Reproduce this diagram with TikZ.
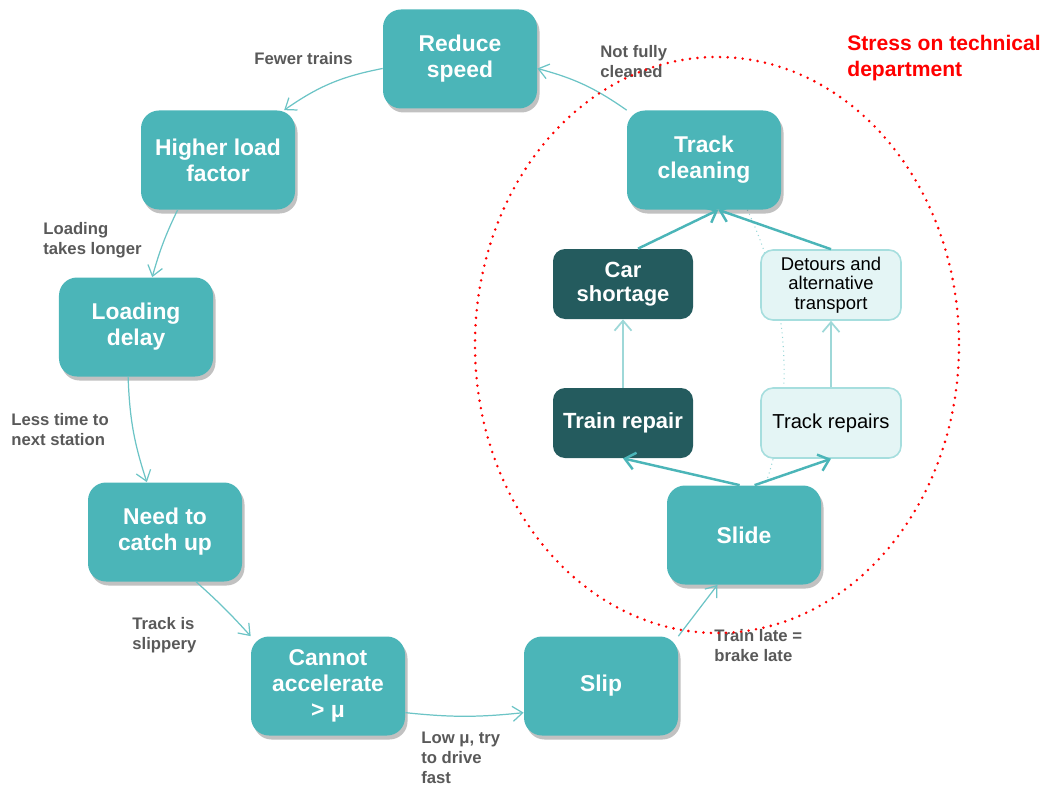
\documentclass[tikz,border=0pt]{standalone}
\usepackage{fontspec}
\setmainfont{Liberation Sans}
\usetikzlibrary{arrows.meta,shadows,backgrounds}

\definecolor{boxteal}{HTML}{4BB5B8}
\definecolor{boxdark}{HTML}{245B5E}
\definecolor{boxpale}{HTML}{E4F5F5}
\definecolor{edgepale}{HTML}{A6DEDE}
\definecolor{linkteal}{HTML}{6CC4C6}
\definecolor{linkpale}{HTML}{9ED8D8}
\definecolor{lblgray}{HTML}{595959}

\tikzset{
  bigbox/.style={rectangle, rounded corners=3.6mm, fill=boxteal, text=white,
    minimum width=30.8mm, minimum height=19.8mm, align=center, inner sep=0pt,
    font=\fontsize{13}{14.8}\selectfont\bfseries,
    drop shadow={shadow xshift=0.5mm, shadow yshift=-0.8mm, opacity=0.35, fill=black!70}},
  darkbox/.style={rectangle, rounded corners=2.4mm, fill=boxdark, text=white,
    minimum width=28mm, minimum height=14mm, align=center, inner sep=0pt,
    font=\fontsize{12.5}{13.5}\selectfont\bfseries},
  lightbox/.style={rectangle, rounded corners=2.4mm, fill=boxpale, draw=edgepale,
    line width=0.9pt, text=black, minimum width=28mm, minimum height=14mm,
    align=center, inner sep=0pt},
  lbl/.style={anchor=west, align=left, text=lblgray, inner sep=0pt,
    font=\fontsize{9.5}{11.4}\selectfont\bfseries},
  flow/.style={draw=linkteal, line width=0.7pt, -{Straight Barb[length=2mm,width=3mm]}},
  flowthick/.style={draw=boxteal, line width=1.4pt, -{Straight Barb[length=2mm,width=3.4mm]}},
  flowpale/.style={draw=linkpale, line width=1pt, -{Straight Barb[length=2mm,width=3.4mm]}}
}

\begin{document}
\begin{tikzpicture}[x=0.2mm,y=-0.2mm]
  \useasboundingbox (0,0) rectangle (1051,785);

  % the loop of causes
  \node[bigbox] (reduce)  at (460,59)  {Reduce\\speed};
  \node[bigbox] (higher)  at (218,160) {Higher load\\factor};
  \node[bigbox] (loading) at (136,327) {Loading\\delay};
  \node[bigbox] (catchup) at (165,532) {Need to\\catch up};
  \node[bigbox] (cannot)  at (328,686) {Cannot\\accelerate\\> μ};
  \node[bigbox] (slip)    at (601,686) {Slip};
  \node[bigbox] (slide)   at (744,535) {Slide};
  \node[bigbox] (clean)   at (704,160) {Track\\cleaning};

  % technical department
  \node[darkbox] (carshort) at (623,284) {Car\\shortage};
  \node[darkbox] (trainrep) at (623,423) {Train repair};
  \node[lightbox, font=\fontsize{10.5}{11}\selectfont] (detours) at (831,285) {Detours and\\alternative\\transport};
  \node[lightbox, font=\fontsize{11.5}{13}\selectfont] (trackrep) at (831,423) {Track repairs};

  % faint hidden path behind the boxes
  \begin{scope}[on background layer]
    \draw[linkteal!70, line width=0.6pt, dotted] (clean.-49) .. controls (790,300) and (795,400) .. (slide.67);
  \end{scope}

  % arrows round the loop
  \draw[flow] (reduce.187) to[bend right=12] (higher.37);
  \draw[flow] (higher.231) to[bend right=5] (loading.72);
  \draw[flow] (loading.261) to[bend right=8] (catchup.110);
  \draw[flow] (catchup.-58) to[bend left=3] (cannot.north west);
  \draw[flow] (cannot.-19) to[bend right=6] (slip.199);
  \draw[flow] (slip.north east) -- (slide.242);
  \draw[flow] (clean.north west) to[bend right=10] (reduce.-7);

  % arrows inside the red ring
  \draw[flowthick] (slide.95) -- (trainrep.south);
  \draw[flowthick] (slide.78) -- (trackrep.south);
  \draw[flowpale] (trainrep) -- (carshort);
  \draw[flowpale] (trackrep) -- (detours);
  \draw[flowthick] (carshort.67) -- (clean.-74);
  \draw[flowthick] (detours.north) -- (clean.-74);

  % labels
  \node[lbl] (l1) at (254,59) {Fewer trains};
  \node[lbl] (l2) at (600,62) {Not fully\\cleaned};
  \node[lbl] (l3) at (43,240) {Loading\\takes longer};
  \node[lbl] (l4) at (11,430) {Less time to\\next station};
  \node[lbl] (l5) at (132,635) {Track is\\slippery};
  \node[lbl] (l6) at (421,758) {Low μ, try\\to drive\\fast};
  \node[lbl] (l7) at (714,646) {Train late =\\brake late};

  % red ring
  \draw[red, line width=1.6pt, line cap=round, dash pattern=on 0pt off 4.3pt]
    (717,345) ellipse [x radius=242, y radius=288];
  \node[anchor=west, align=left, text=red, inner sep=0pt,
    font=\fontsize{12}{15}\selectfont\bfseries] (stress) at (847,58) {Stress on technical\\department};
\end{tikzpicture}
\end{document}
